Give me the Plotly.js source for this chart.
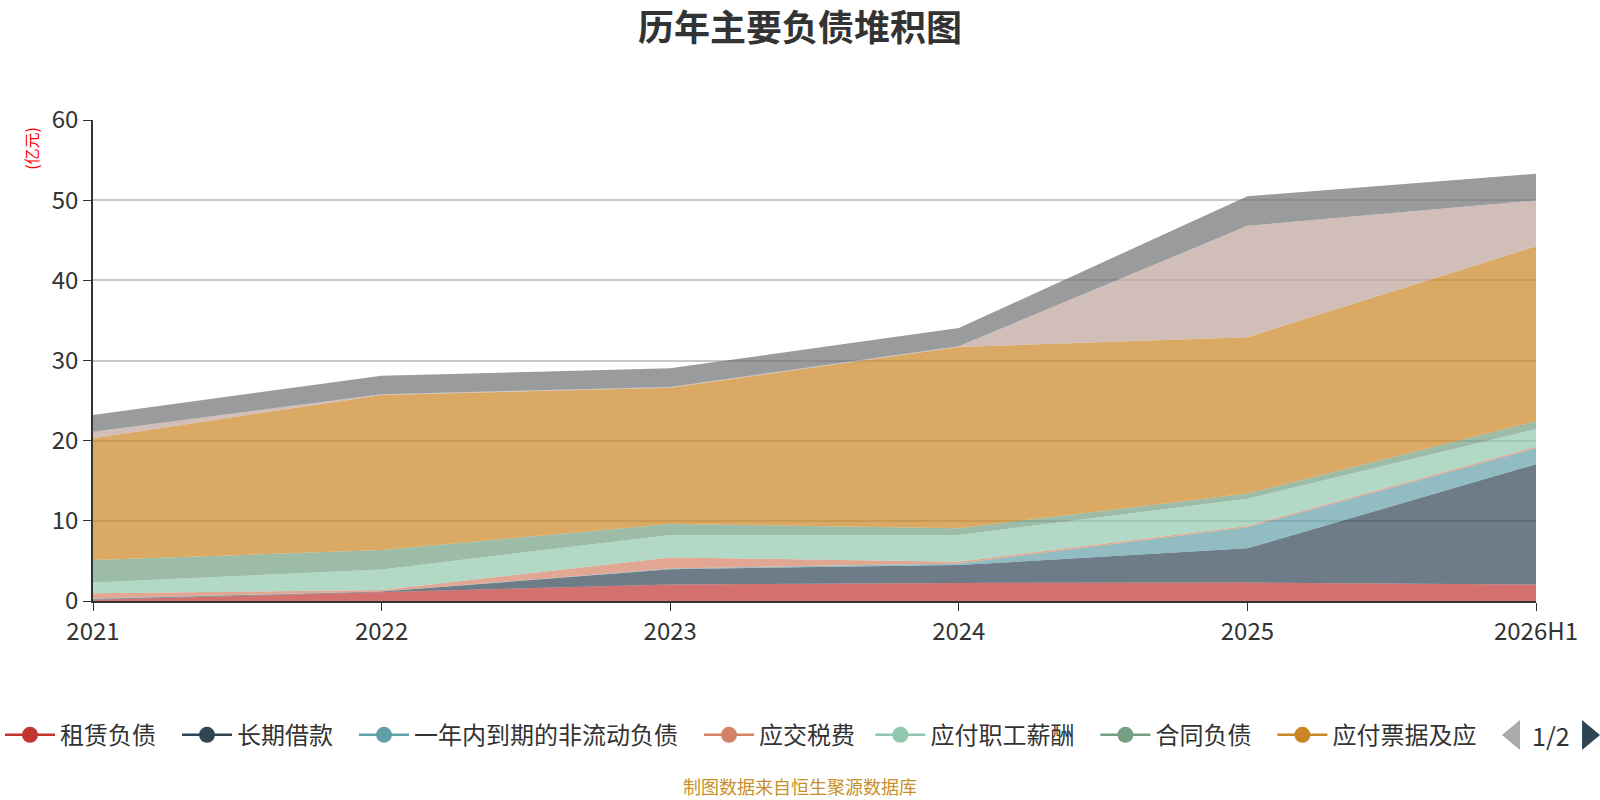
<!DOCTYPE html>
<html>
<head>
<meta charset="utf-8">
<script src="https://cdn.plot.ly/plotly-3.0.1.min.js"></script>
<style>html,body{margin:0;padding:0;background:#fff;}#chart{width:1600px;height:800px;}</style>
</head>
<body>
<div id="chart"></div>
<script>
const categories = ["2021", "2022", "2023", "2024", "2025", "2026H1"];
const seriesNames = ["租赁负债", "长期借款", "一年内到期的非流动负债", "应交税费", "应付职工薪酬", "合同负债", "应付票据及应付账款", "短期借款", "其他应付款"];
const legendLabels = ["租赁负债", "长期借款", "一年内到期的非流动负债", "应交税费", "应付职工薪酬", "合同负债", "应付票据及应"];
const zulinFuzhai = [0.15, 1.09, 2.05, 2.26, 2.30, 2.05];
const changqiJiekuan = [0.10, 0.08, 1.92, 2.22, 4.27, 15.02];
const yinianDaoqi = [0.05, 0.02, 0.09, 0.21, 2.63, 1.97];
const yingjiaoShuifei = [0.66, 0.19, 1.38, 0.21, 0.17, 0.21];
const zhigongXinchou = [1.34, 2.55, 2.80, 3.34, 3.39, 2.21];
const hetongFuzhai = [2.80, 2.43, 1.38, 0.84, 0.64, 0.97];
const yingfuPiaoju = [15.20, 19.34, 16.98, 22.60, 19.50, 21.82];
const duanqiJiekuan = [0.80, 0.10, 0.10, 0.10, 13.90, 5.71];
const qitaYingfu = [2.10, 2.30, 2.34, 2.26, 3.70, 3.34];
const seriesValues = [zulinFuzhai, changqiJiekuan, yinianDaoqi, yingjiaoShuifei, zhigongXinchou, hetongFuzhai, yingfuPiaoju, duanqiJiekuan, qitaYingfu];
const colors = ["#c23531", "#2f4554", "#61a0a8", "#d48265", "#91c7ae", "#749f83", "#ca8622", "#bda29a", "#6e7074"];
const yTicks = [0, 10, 20, 30, 40, 50, 60];

function hexToRgba(hex, a) {
  const r = parseInt(hex.slice(1, 3), 16), g = parseInt(hex.slice(3, 5), 16), b = parseInt(hex.slice(5, 7), 16);
  return `rgba(${r},${g},${b},${a})`;
}

const traces = seriesNames.map((name, i) => ({
  type: "scatter",
  mode: "lines",
  x: categories,
  y: seriesValues[i],
  name: name,
  stackgroup: "one",
  line: { width: 0, color: colors[i] },
  fillcolor: hexToRgba(colors[i], 0.7),
  showlegend: false,
  hovertemplate: name + ": %{y}亿元<extra></extra>"
}));

// legend entries (first page of the paged legend), split across two legend boxes so they stay on one row
legendLabels.forEach((label, i) => {
  traces.push({
    type: "scatter",
    mode: "lines+markers",
    x: [null],
    y: [null],
    name: label + "\u2002\u2006",
    legend: i < 4 ? "legend" : "legend2",
    line: { color: colors[i], width: 2.5 },
    marker: { color: colors[i], size: 23 },
    showlegend: true,
    hoverinfo: "skip"
  });
});

const font = "'Noto Sans CJK SC', 'Noto Sans', sans-serif";

const legendBase = {
  orientation: "h",
  traceorder: "normal",
  xref: "container", yref: "container",
  xanchor: "left",
  y: 0.081, yanchor: "middle",
  font: { size: 24, color: "#333" },
  itemwidth: 50,
  bgcolor: "rgba(0,0,0,0)"
};

const layout = {
  width: 1600,
  height: 800,
  paper_bgcolor: "#fff",
  plot_bgcolor: "#fff",
  font: { family: font, color: "#333" },
  margin: { l: 93, r: 64, t: 120, b: 199 },
  title: {
    text: "<b>历年主要负债堆积图</b>",
    font: { size: 36, color: "#333", family: font },
    x: 0.5, xanchor: "center",
    y: 0.965, yanchor: "middle"
  },
  xaxis: {
    type: "category",
    categoryorder: "array",
    categoryarray: categories,
    range: [0, categories.length - 1],
    showgrid: false,
    showline: true,
    linecolor: "#333",
    linewidth: 1.5,
    ticks: "outside",
    ticklen: 8,
    tickcolor: "#333",
    tickfont: { size: 24, color: "#333" },
    zeroline: false,
    fixedrange: true
  },
  yaxis: {
    range: [0, 60],
    tickvals: yTicks,
    showgrid: true,
    gridcolor: "#c8c8c8",
    gridwidth: 1.5,
    showline: true,
    linecolor: "#333",
    linewidth: 1.5,
    ticks: "outside",
    ticklen: 8,
    tickcolor: "#333",
    tickfont: { size: 24, color: "#333" },
    zeroline: false,
    fixedrange: true
  },
  legend: Object.assign({}, legendBase, { x: -0.020 }),
  legend2: Object.assign({}, legendBase, { x: 0.544 }),
  shapes: [
    {
      type: "path", xref: "paper", yref: "paper",
      path: "M 0.9764 -0.2786 L 0.9889 -0.2474 L 0.9889 -0.3098 Z",
      fillcolor: "#aaaaaa", line: { width: 0 }
    },
    {
      type: "path", xref: "paper", yref: "paper",
      path: "M 1.0444 -0.2786 L 1.0319 -0.2474 L 1.0319 -0.3098 Z",
      fillcolor: "#2f4554", line: { width: 0 }
    }
  ],
  annotations: [
    {
      text: "(亿元)", xref: "paper", yref: "paper",
      x: -0.043, y: 0.942, xanchor: "center", yanchor: "middle",
      textangle: -90, showarrow: false,
      font: { size: 16, color: "#ff0000" }
    },
    {
      text: "1/2", xref: "paper", yref: "paper",
      x: 1.0104, y: -0.2786, xanchor: "center", yanchor: "middle",
      showarrow: false, font: { size: 25, color: "#333" }
    },
    {
      text: "制图数据来自恒生聚源数据库", xref: "paper", yref: "paper",
      x: 0.49, y: -0.385, xanchor: "center", yanchor: "middle",
      showarrow: false, font: { size: 18, color: "#c8902a" }
    }
  ]
};

Plotly.newPlot("chart", traces, layout, { displayModeBar: false, responsive: false });
</script>
</body>
</html>
